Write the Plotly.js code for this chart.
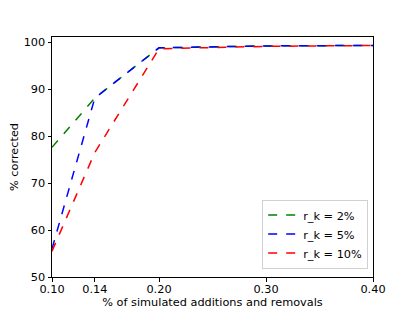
<!DOCTYPE html>
<html><head><meta charset="utf-8">
<script src="https://cdn.plot.ly/plotly-3.0.1.min.js"></script>
<style>html,body{margin:0;padding:0;background:#fff}#c{width:415px;height:311px}</style>
</head><body><div id="c"></div>
<script>
const xVals = [0.10, 0.14, 0.20, 0.30, 0.40];
const tickVals = [0.10, 0.14, 0.20, 0.30, 0.40];
const tickText = ['0.10', '0.14', '0.20', '0.30', '0.40'];
const seriesNames = ['r_k = 2%', 'r_k = 5%', 'r_k = 10%'];
const green2 = [77.6, 88.1, 98.8, 99.2, 99.3];
const blue5 = [56.0, 88.1, 98.8, 99.2, 99.3];
const red10 = [55.5, 76.5, 98.6, 99.1, 99.3];
const colors = ['#008000', '#0000ff', '#ff0000'];
const ys = [green2, blue5, red10];
const traces = ys.map((y, i) => ({
  x: xVals, y: y, type: 'scatter', mode: 'lines', name: seriesNames[i],
  line: {color: colors[i], dash: 'dash', width: 1.5}
}));
const axisCommon = {showline: true, linecolor: '#000', linewidth: 1, mirror: true,
  ticks: 'outside', ticklen: 3.5, tickwidth: 1, tickcolor: '#000', showgrid: false, zeroline: false,
  tickfont: {family: 'DejaVu Sans', size: 11.3, color: '#000'}};
const layout = {
  width: 415, height: 311,
  margin: {l: 52, r: 42, t: 37, b: 34},
  paper_bgcolor: '#fff', plot_bgcolor: '#fff',
  font: {family: 'DejaVu Sans', size: 11.3, color: '#000'},
  xaxis: Object.assign({}, axisCommon, {range: [0.10, 0.40], tickvals: tickVals, ticktext: tickText,
    ticklabelstandoff: -2,
    title: {text: '% of simulated additions and removals', font: {size: 11.3}, standoff: 2}}),
  yaxis: Object.assign({}, axisCommon, {range: [50, 101.1], tickvals: [50, 60, 70, 80, 90, 100],
    title: {text: '% corrected', font: {size: 11.3}, standoff: 2}}),
  legend: {x: 0.985, y: 0.035, xanchor: 'right', yanchor: 'bottom', bgcolor: 'rgba(255,255,255,0.8)',
    bordercolor: '#d0d0d0', borderwidth: 1, font: {size: 11.3}, tracegroupgap: 0, itemwidth: 30},
  showlegend: true
};
Plotly.newPlot('c', traces, layout, {displayModeBar: false, staticPlot: true});
</script></body></html>
